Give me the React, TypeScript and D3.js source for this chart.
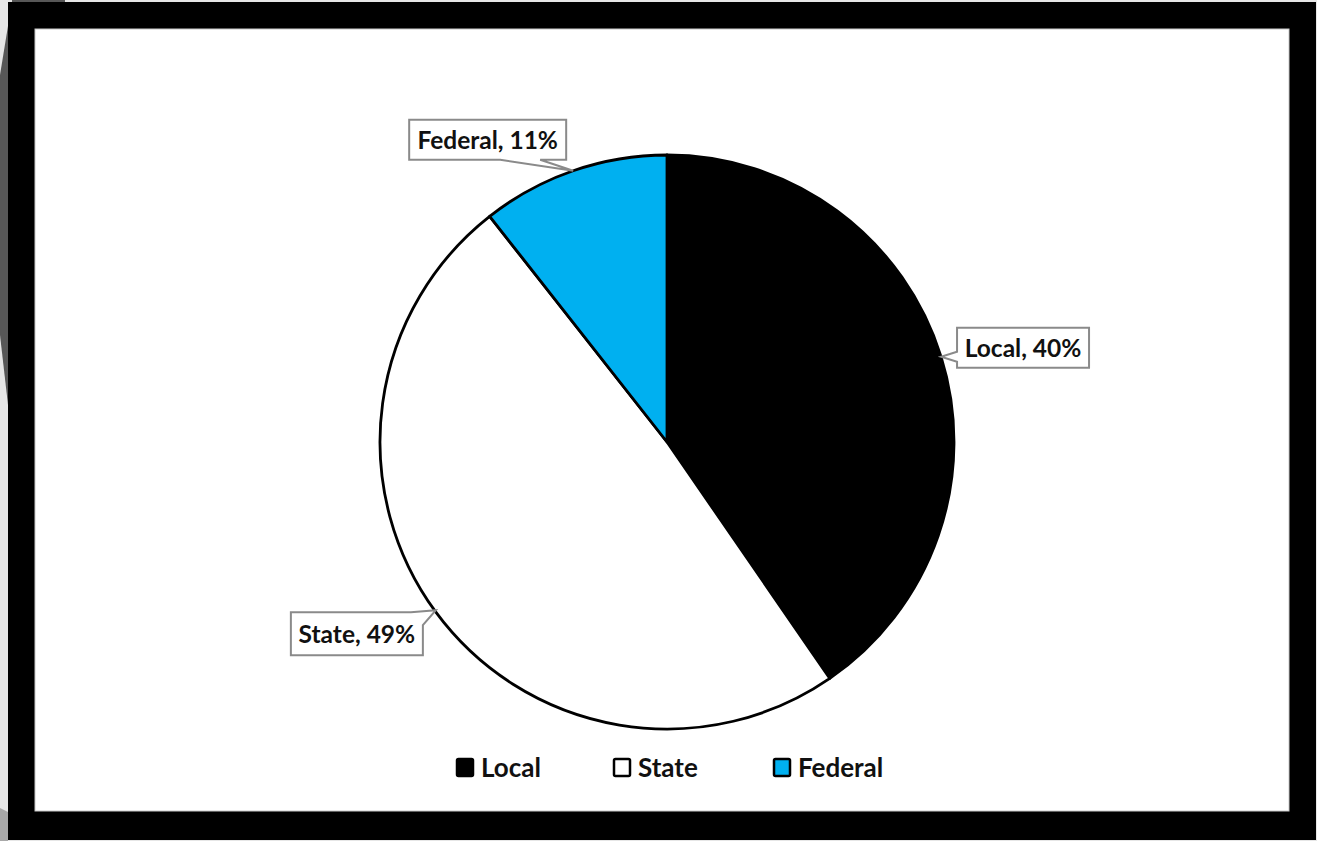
import React from "react";
import * as d3 from "d3";

const categories = ["Local", "State", "Federal"];
const values = [40.4, 49.0, 10.6];
const labelTexts = ["Local, 40%", "State, 49%", "Federal, 11%"];
const colors = ["#000000", "#ffffff", "#00B0F0"];

const W = 1317;
const H = 841;
const FONT = "Lato, 'Noto Sans', sans-serif";

export default function App() {
  const cx = 667;
  const cy = 442;
  const r = 287;
  const pie = d3.pie<number>().sort(null).startAngle(0).endAngle(2 * Math.PI);
  const arcs = pie(values);
  const arc = d3.arc<d3.PieArcDatum<number>>().innerRadius(0).outerRadius(r);

  const tip = (a: d3.PieArcDatum<number>) => {
    const m = (a.startAngle + a.endAngle) / 2;
    return [cx + r * Math.sin(m), cy - r * Math.cos(m)];
  };

  // callout box layouts relative to tip: [dx of left, dy of top, width, height]
  const boxes = [
    { dx: 16, dy: -29, w: 132, h: 40, side: "left" },
    { dx: -145, dy: 0, w: 132, h: 43, side: "corner" },
    { dx: -164, dy: -51, w: 157, h: 40, side: "bottom" },
  ];

  const callouts = arcs.map((a, i) => {
    const [tx, ty] = tip(a);
    const b = boxes[i];
    const x0 = tx + b.dx;
    const y0 = ty + b.dy;
    const x1 = x0 + b.w;
    const y1 = y0 + b.h;
    let d = "";
    if (b.side === "left") {
      const ym = ty;
      d = `M${x0},${y0} L${x1},${y0} L${x1},${y1} L${x0},${y1} L${x0},${ym + 5} L${tx},${ty} L${x0},${ym - 5} Z`;
    } else if (b.side === "bottom") {
      d = `M${x0},${y0} L${x1},${y0} L${x1},${y1} L${tx - 33},${y1} L${tx},${ty} L${tx - 73},${y1} L${x0},${y1} Z`;
    } else {
      d = `M${x0},${y0} L${x1 - 12},${y0} L${tx},${ty - 2} L${x1},${y0 + 13} L${x1},${y1} L${x0},${y1} Z`;
    }
    return { d, cxText: (x0 + x1) / 2, cyText: (y0 + y1) / 2, text: labelTexts[i] };
  });

  const legendX = [456, 613, 773];
  const legendY = 758;

  return (
    <svg
      width={W}
      height={H}
      style={{ position: "absolute", left: 0, top: 0, display: "block" }}
    >
      <rect x={0} y={0} width={W} height={H} fill="#e6e6e6" />
      <polygon points="8,26 0,75 0,335 8,405" fill="#575757" />
      <polygon points="0,808 8,812 8,841 0,841" fill="#a8a8a8" />
      <rect x={12} y={0} width={53} height={2} fill="#575757" />
      <rect x={8} y={2} width={1308} height={838} fill="#000" />
      <rect x={35} y={29} width={1254} height={782} fill="#fff" stroke="#c8c8c8" strokeWidth={1} />

      <g transform={`translate(${cx},${cy})`}>
        {arcs.map((a, i) => (
          <path
            key={categories[i]}
            d={arc(a) || ""}
            fill={colors[i]}
            stroke="#000"
            strokeWidth={2.8}
            strokeLinejoin="round"
          />
        ))}
      </g>

      {callouts.map((c, i) => (
        <g key={i}>
          <path d={c.d} fill="#fff" stroke="#8a8a8a" strokeWidth={2} />
          <text
            x={c.cxText}
            y={c.cyText + 9}
            textAnchor="middle"
            fontFamily={FONT}
            fontWeight={700}
            fontSize={24.5}
            fill="#111"
          >
            {c.text}
          </text>
        </g>
      ))}

      {categories.map((c, i) => (
        <g key={c}>
          <rect
            x={legendX[i] + 1}
            y={legendY + 1}
            width={16}
            height={17}
            fill={colors[i]}
            stroke="#000"
            strokeWidth={2.5}
            rx={1.5}
          />
          <text
            x={legendX[i] + 25}
            y={legendY + 19}
            fontFamily={FONT}
            fontWeight={700}
            fontSize={26}
            fill="#111"
          >
            {c}
          </text>
        </g>
      ))}
    </svg>
  );
}
